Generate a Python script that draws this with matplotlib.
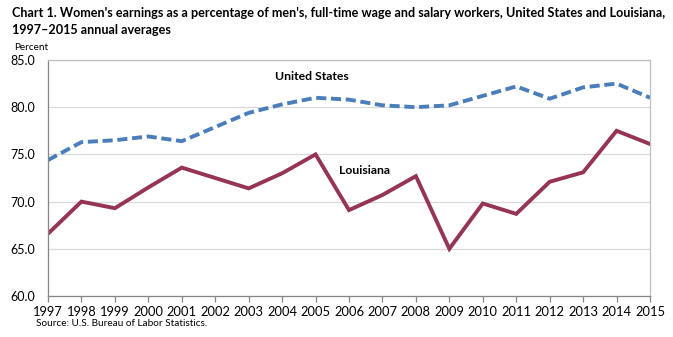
import matplotlib
matplotlib.use("Agg")
import matplotlib.pyplot as plt
from matplotlib.ticker import FormatStrFormatter

years = list(range(1997, 2016))
us_values = [74.4, 76.3, 76.5, 76.9, 76.4, 77.9, 79.4, 80.3, 81.0, 80.8,
             80.2, 80.0, 80.2, 81.2, 82.2, 80.9, 82.1, 82.5, 81.0]
la_values = [66.6, 70.0, 69.3, 71.5, 73.6, 72.5, 71.4, 73.0, 75.0, 69.1,
             70.7, 72.7, 65.0, 69.8, 68.7, 72.1, 73.1, 77.5, 76.1]
y_ticks = [60.0, 65.0, 70.0, 75.0, 80.0, 85.0]

title_1 = ("Chart 1. Women's earnings as a percentage of men's, full-time wage and salary workers, "
           "United States and Louisiana,")
title_2 = "1997\u20132015 annual averages"

FONT = ['Lato', 'DejaVu Sans']
plt.rcParams['font.family'] = FONT

fig = plt.figure(figsize=(6.73, 3.37), dpi=100)
ax = fig.add_axes([48/673, 1-296/337, (650-48)/673, (296-60)/337])

ax.plot(years, us_values, color='#4A7EBB', lw=2.8, ls=(0, (2.6, 1.2)), dash_capstyle='butt')
ax.plot(years, la_values, color='#953553', lw=2.8, solid_joinstyle='miter')

ax.set_xlim(1997, 2015)
ax.set_ylim(60, 85)
ax.set_xticks(years)
ax.set_xticklabels([str(y) for y in years])
ax.set_yticks(y_ticks)
ax.yaxis.set_major_formatter(FormatStrFormatter('%.1f'))
ax.grid(axis='y', color='#D9D9D9', lw=0.9)
ax.set_axisbelow(True)

for s in ['top', 'right']:
    ax.spines[s].set_color('#BFBFBF')
    ax.spines[s].set_linewidth(0.9)
for s in ['left', 'bottom']:
    ax.spines[s].set_color('#868686')
    ax.spines[s].set_linewidth(0.9)

ax.tick_params(axis='x', direction='out', length=4, width=0.9, color='#868686', labelsize=9.3, pad=3)
ax.tick_params(axis='y', length=0, labelsize=9, pad=9)

ax.text(2004.9, 83.2, 'United States', ha='center', va='center', fontsize=8.8, fontweight='bold')
ax.text(2006.45, 73.25, 'Louisiana', ha='center', va='center', fontsize=8.8, fontweight='bold')

fig.text(12/673, 1-13/337, title_1, ha='left', va='center', fontsize=9.1, fontweight='bold')
fig.text(12/673, 1-30/337, title_2, ha='left', va='center', fontsize=9.1, fontweight='bold')
fig.text(14/673, 1-47/337, 'Percent', ha='left', va='center', fontsize=7.2)
fig.text(36/673, 1-324/337, 'Source: U.S. Bureau of Labor Statistics.', ha='left', va='center', fontsize=7.2)

fig.savefig('out.png', dpi=100)
